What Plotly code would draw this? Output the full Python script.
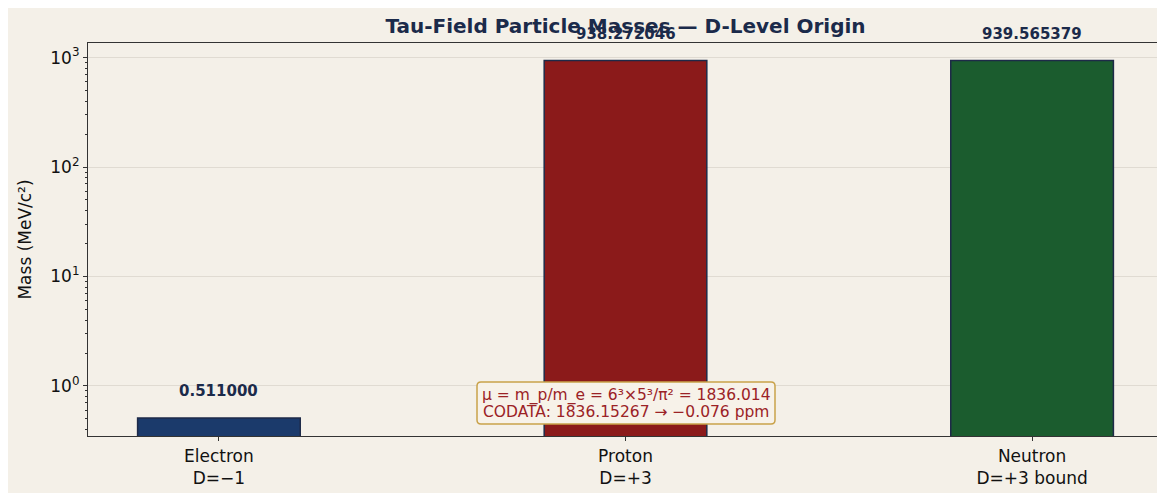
import math
import plotly.graph_objects as go

# ---- data ----
particles = ["Electron<br>D=−1", "Proton<br>D=+3", "Neutron<br>D=+3 bound"]
masses = [0.511000, 938.272046, 939.565379]
mass_labels = ["0.511000", "938.272046", "939.565379"]
bar_colors = ["#1b3a6b", "#8b1a1a", "#1b5c2e"]
major_ticks = [1, 10, 100, 1000]
major_text = ["10<sup>0</sup>", "10<sup>1</sup>", "10<sup>2</sup>", "10<sup>3</sup>"]
minor_ticks = [m * 10 ** e for e in range(-1, 3) for m in range(2, 10) if m * 10 ** e > 0.35]
note_lines = ["μ = m_p/m_e = 6³×5³/π² = 1836.014", "CODATA: 1836.15267 → −0.076 ppm"]

BG = "#f4f0e8"
NAVY = "#1b2a4a"
FONT = "DejaVu Sans"

W, H = 1157, 485
ML, MR, MT, MB = 80, 2, 35, 57
PW, PH = W - ML - MR, H - MT - MB


def px_x(p):
    return (p - ML) / PW


def px_y(p):
    return (H - MB - p) / PH


fig = go.Figure()
fig.add_trace(go.Bar(
    x=particles, y=masses, width=0.4,
    marker=dict(color=bar_colors, line=dict(color="#1e2a48", width=1.5)),
    showlegend=False, hoverinfo="skip",
))

for xc, m, lab in zip(particles, masses, mass_labels):
    fig.add_annotation(
        x=xc, y=math.log10(m), text=f"<b>{lab}</b>", showarrow=False,
        yshift=27, yanchor="middle", xanchor="center",
        font=dict(family=FONT, size=15, color=NAVY),
    )

# note box (rounded rectangle) with two text lines
x0, x1 = px_x(469), px_x(767)
y0, y1 = px_y(416), px_y(374)
rx, ry = 4 / PW, 4 / PH
path = (f"M {x0+rx},{y0} L {x1-rx},{y0} Q {x1},{y0} {x1},{y0+ry} "
        f"L {x1},{y1-ry} Q {x1},{y1} {x1-rx},{y1} L {x0+rx},{y1} Q {x0},{y1} {x0},{y1-ry} "
        f"L {x0},{y0+ry} Q {x0},{y0} {x0+rx},{y0} Z")
fig.add_shape(type="path", xref="paper", yref="paper", path=path,
              fillcolor="#f7f2e9", line=dict(color="#c9a24a", width=1.5), layer="above")
for line, py in zip(note_lines, [387, 404]):
    fig.add_annotation(
        xref="paper", yref="paper", x=px_x(618), y=px_y(py), text=line,
        showarrow=False, xanchor="center", yanchor="middle",
        font=dict(family=FONT, size=15.5, color="#9b2226"),
    )

fig.update_layout(
    width=W, height=H,
    margin=dict(l=ML, r=MR, t=MT, b=MB),
    paper_bgcolor=BG, plot_bgcolor=BG,
    font=dict(family=FONT, color="#111111"),
    title=dict(text="<b>Tau-Field Particle Masses — D-Level Origin</b>",
               x=0.5, xref="paper", xanchor="center", y=1 - 18 / H, yanchor="middle",
               font=dict(family=FONT, size=20, color=NAVY)),
)

fig.update_xaxes(
    range=[-0.322, 2.322], showline=True, linecolor="#333333", linewidth=1.2, mirror=True,
    ticks="outside", ticklen=4, tickcolor="#333333", showgrid=False,
    tickfont=dict(family=FONT, size=17, color="#111111"),
)
fig.update_yaxes(
    type="log", range=[-0.457, 3.133],
    showline=True, linecolor="#333333", linewidth=1.2, mirror=True,
    tickmode="array", tickvals=major_ticks, ticktext=major_text,
    ticks="outside", ticklen=4, tickcolor="#333333",
    showgrid=True, gridcolor="#e0dbd2", gridwidth=1,
    minor=dict(tickmode="array", tickvals=minor_ticks, ticks="outside", ticklen=2,
               tickcolor="#333333", showgrid=False),
    tickfont=dict(family=FONT, size=17, color="#111111"),
    title=dict(text="Mass (MeV/c²)", font=dict(family=FONT, size=17, color="#111111"), standoff=14),
    zeroline=False,
)

fig.write_html("out.html")
